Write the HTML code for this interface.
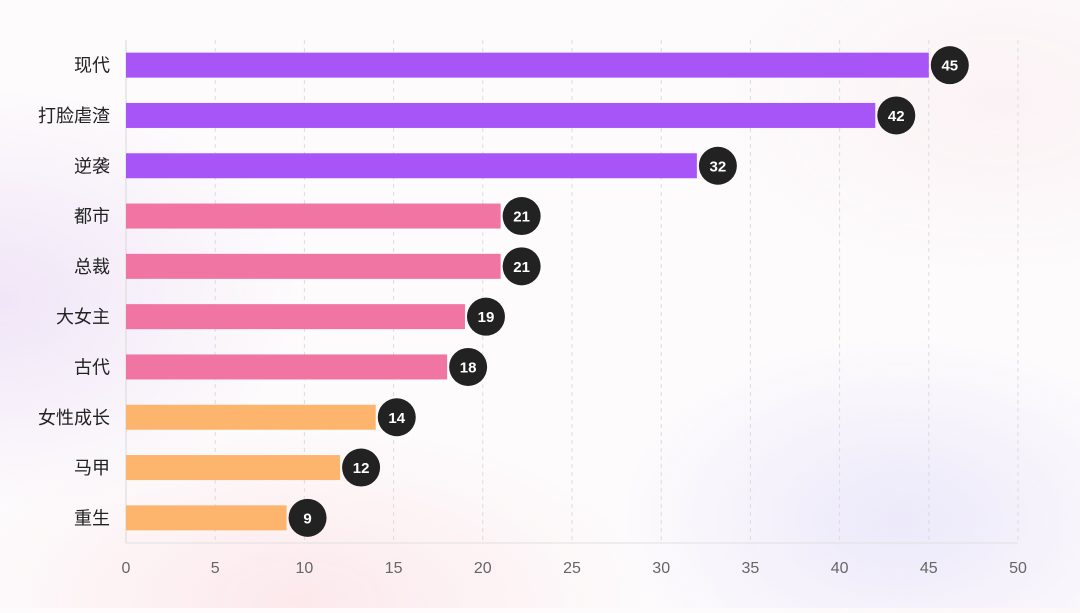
<!DOCTYPE html>
<html><head><meta charset="utf-8">
<style>
html,body{margin:0;padding:0;}
body{width:1080px;height:608px;overflow:hidden;font-family:"Liberation Sans","Noto Sans CJK SC",sans-serif;
background:
radial-gradient(ellipse 420px 300px at 0px 300px, rgba(235,220,245,0.7), rgba(255,255,255,0) 70%),
radial-gradient(ellipse 400px 260px at 900px 520px, rgba(232,228,250,0.8), rgba(255,255,255,0) 70%),
radial-gradient(ellipse 500px 250px at 300px 600px, rgba(252,228,232,0.8), rgba(255,255,255,0) 70%),
radial-gradient(ellipse 400px 250px at 1000px 100px, rgba(250,236,240,0.6), rgba(255,255,255,0) 70%),
#fdfbfc;}
</style></head><body>
<svg id="chart" width="1080" height="608" xmlns="http://www.w3.org/2000/svg"></svg>
<script>
const categories=["现代","打脸虐渣","逆袭","都市","总裁","大女主","古代","女性成长","马甲","重生"];
const values=[45,42,32,21,21,19,18,14,12,9];
const groups=["purple","purple","purple","pink","pink","pink","pink","orange","orange","orange"];
const ticks=[0,5,10,15,20,25,30,35,40,45,50];
const colors={purple:"#a855f7",pink:"#f075a3",orange:"#fdb56e"};
const NS="http://www.w3.org/2000/svg";
const svg=document.getElementById('chart');
const x0=126,x1=1018,plotTop=40,plotBottom=543,xmax=50;
const xs=v=>x0+(v/xmax)*(x1-x0);
const rowH=(plotBottom-plotTop)/categories.length;
const ys=i=>plotTop+rowH*(i+0.5);
function mk(t,a){const e=document.createElementNS(NS,t);for(const k in a)e.setAttribute(k,a[k]);svg.appendChild(e);return e;}
ticks.forEach(t=>{
 if(t>0){const g=mk('line',{x1:xs(t),x2:xs(t),y1:plotTop,y2:plotBottom,stroke:'#dcdcdc','stroke-dasharray':'4,4','stroke-width':1});
 
 }
 const l=mk('text',{x:xs(t),y:573,'text-anchor':'middle','font-size':16,fill:'#666'});
 l.textContent=t;
 
 
});
const ax=mk('line',{x1:x0,x2:x0,y1:plotTop,y2:plotBottom,stroke:'#d8d8d8'});


const bx=mk('line',{x1:x0,x2:x1,y1:plotBottom,y2:plotBottom,stroke:'#e0e0e0'});


categories.forEach((c,i)=>{
 const y=ys(i);
 const lab=mk('text',{x:110,y:y+6.5,'text-anchor':'end','font-size':18,fill:'#222'});
 lab.textContent=c;
 
 
 const b=mk('rect',{x:x0,y:y-12.5,width:xs(values[i])-x0,height:25,fill:colors[groups[i]]});
 
 
 const cx=xs(values[i])+21;
 const ci=mk('circle',{cx:cx,cy:y,r:19,fill:'#222'});
 
 
 const vt=mk('text',{x:cx,y:y+5.5,'text-anchor':'middle','font-size':15,'font-weight':'bold',fill:'#fff'});
 vt.textContent=values[i];
 
 
});
</script>
</body></html>
